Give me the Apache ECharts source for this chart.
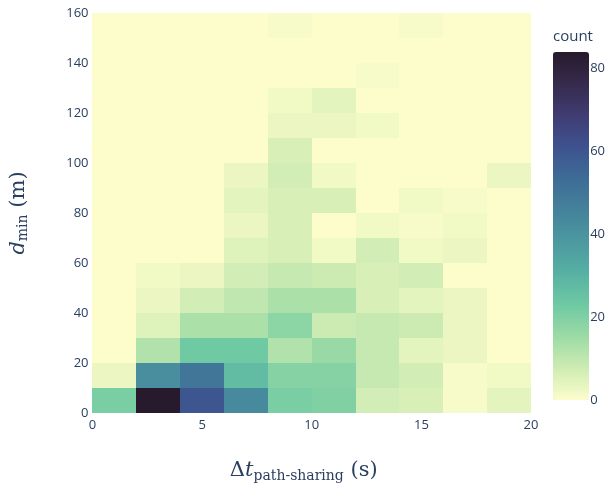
<!DOCTYPE html>
<html>
<head>
<meta charset="utf-8">
<script src="https://cdn.jsdelivr.net/npm/echarts@6/dist/echarts.min.js"></script>
<style>html,body{margin:0;padding:0;background:#fff}#c{width:608px;height:489px}</style>
</head>
<body>
<div id="c"></div>
<script>
// Bin edges
const xEdges = [0, 2, 4, 6, 8, 10, 12, 14, 16, 18, 20];
const yEdges = [0, 10, 20, 30, 40, 50, 60, 70, 80, 90, 100, 110, 120, 130, 140, 150, 160];
// counts[row] for y bin row (0-10 first), columns x bins 0-2 .. 18-20
const counts = [
  [21, 84, 60, 43, 21, 20, 7, 6, 1, 4],
  [3, 42, 50, 27, 19, 19, 9, 7, 1, 2],
  [0, 12, 23, 23, 12, 16, 9, 4, 3, 0],
  [0, 5, 13, 13, 18, 8, 9, 8, 3, 0],
  [0, 3, 7, 10, 13, 13, 6, 4, 3, 0],
  [0, 2, 3, 7, 9, 8, 6, 7, 0, 0],
  [0, 0, 0, 5, 6, 2, 7, 2, 3, 0],
  [0, 0, 0, 3, 6, 0, 2, 1, 2, 0],
  [0, 0, 0, 4, 6, 6, 0, 2, 1, 0],
  [0, 0, 0, 3, 7, 2, 0, 0, 0, 3],
  [0, 0, 0, 0, 6, 0, 0, 0, 0, 0],
  [0, 0, 0, 0, 3, 3, 2, 0, 0, 0],
  [0, 0, 0, 0, 2, 4, 0, 0, 0, 0],
  [0, 0, 0, 0, 0, 0, 1, 0, 0, 0],
  [0, 0, 0, 0, 0, 0, 0, 0, 0, 0],
  [0, 0, 0, 0, 1, 0, 0, 1, 0, 0]
];
const colorMax = 84;
const xTicks = [0, 5, 10, 15, 20];
const cbTicks = [0, 20, 40, 60, 80];
const deep = ['rgb(253,253,204)','rgb(206,236,179)','rgb(156,219,165)','rgb(111,201,163)','rgb(86,177,163)','rgb(76,153,160)','rgb(68,130,155)','rgb(62,108,150)','rgb(62,82,143)','rgb(64,60,115)','rgb(54,43,77)','rgb(39,26,44)'];

const data = [];
for (let r = 0; r < counts.length; r++) {
  for (let c = 0; c < counts[r].length; c++) {
    data.push([xEdges[c], xEdges[c + 1], yEdges[r], yEdges[r + 1], counts[r][c]]);
  }
}

const txt = '#2a3f5f';
const font = '"Open Sans", Arial, sans-serif';
const serif = '"DejaVu Serif", "Liberation Serif", serif';
const richTitle = {
  a: {fontFamily: serif, fontSize: 21, color: txt},
  i: {fontFamily: serif, fontSize: 21, fontStyle: 'italic', color: txt},
  s: {fontFamily: serif, fontSize: 14, color: txt, padding: [10, 0, 0, 0]}
};

const chart = echarts.init(document.getElementById('c'), null, {renderer: 'canvas'});
chart.setOption({
  backgroundColor: '#fff',
  animation: false,
  grid: [
    {left: 92, right: 77, top: 13, bottom: 76},
    {left: 553, width: 36, top: 52, height: 348}
  ],
  xAxis: [{
    type: 'value', min: 0, max: 20, interval: 5, gridIndex: 0,
    axisLine: {show: false}, axisTick: {show: false}, splitLine: {show: false},
    axisLabel: {color: txt, fontSize: 13, fontFamily: font, margin: 6,
      formatter: v => xTicks.indexOf(v) >= 0 ? String(v) : ''},
    name: '{a|Δ}{i|t}{s|path-sharing}{a| (s)}',
    nameLocation: 'middle', nameGap: 46,
    nameTextStyle: {rich: richTitle, padding: [0, 16, 0, 0]}
  }, {
    type: 'value', gridIndex: 1, show: false, min: 0, max: 1
  }],
  yAxis: [{
    type: 'value', min: 0, max: 160, interval: 20, gridIndex: 0,
    axisLine: {show: false}, axisTick: {show: false}, splitLine: {show: false},
    axisLabel: {color: txt, fontSize: 13, fontFamily: font, margin: 4},
    name: '{i|d}{s|min}{a| (m)}',
    nameLocation: 'middle', nameGap: 62, nameRotate: 90,
    nameTextStyle: {rich: richTitle}
  }, {
    type: 'value', gridIndex: 1, min: 0, max: colorMax, interval: 20, position: 'right',
    axisLine: {show: false}, axisTick: {show: false}, splitLine: {show: false},
    axisLabel: {color: txt, fontSize: 13, fontFamily: font, margin: 4,
      formatter: v => cbTicks.indexOf(v) >= 0 ? String(v) : ''},
    name: 'count', nameLocation: 'end', nameGap: 8,
    nameTextStyle: {color: txt, fontSize: 15, fontFamily: font, align: 'left'}
  }],
  visualMap: {
    type: 'continuous', min: 0, max: colorMax, dimension: 4, seriesIndex: 0,
    inRange: {color: deep},
    calculable: false, realtime: false, text: null,
    left: 553, top: 52, itemWidth: 36, itemHeight: 348, padding: 0,
    orient: 'vertical', hoverLink: false
  },
  series: [{
    type: 'custom',
    xAxisIndex: 0, yAxisIndex: 0,
    encode: {x: [0, 1], y: [2, 3]},
    renderItem: function (params, api) {
      const p0 = api.coord([api.value(0), api.value(2)]);
      const p1 = api.coord([api.value(1), api.value(3)]);
      return {
        type: 'rect',
        shape: {x: Math.round(p0[0]), y: Math.round(p1[1]), width: Math.round(p1[0]) - Math.round(p0[0]), height: Math.round(p0[1]) - Math.round(p1[1])},
        style: {fill: api.visual('color')}
      };
    },
    data: data
  }]
});
</script>
</body>
</html>
